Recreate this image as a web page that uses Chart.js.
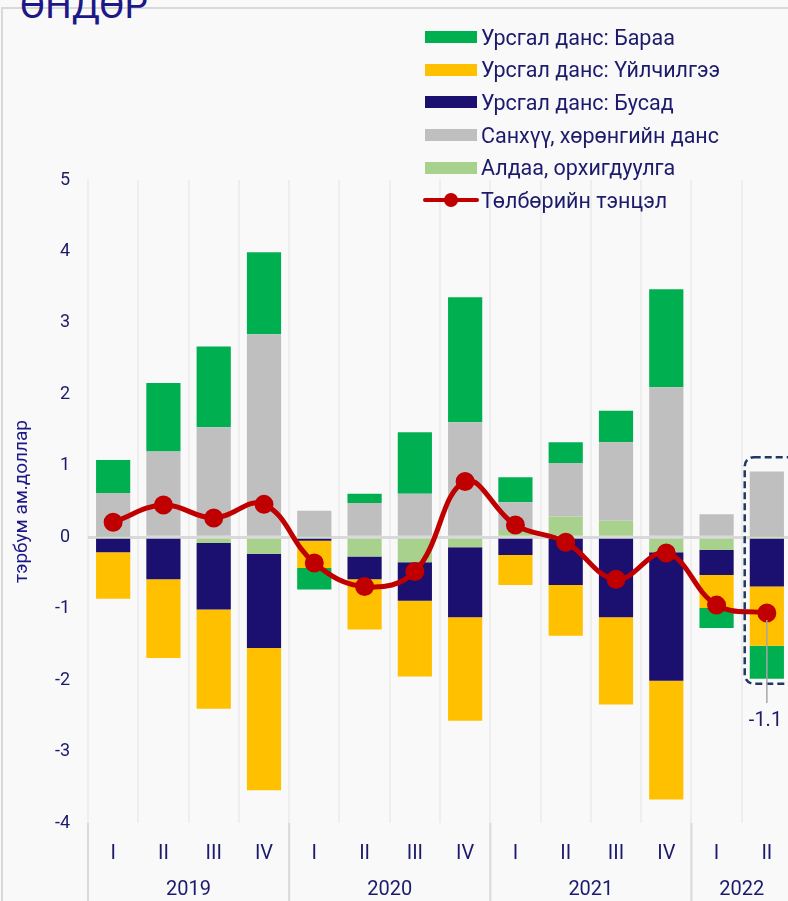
<!DOCTYPE html>
<html lang="mn">
<head>
<meta charset="UTF-8">
<title>Төлбөрийн тэнцэл</title>
<script src="https://cdn.jsdelivr.net/npm/chart.js"></script>
<style>
    html, body {
        margin: 0;
        padding: 0;
        background: #f9f9f9;
        font-family: Roboto, "Noto Sans", sans-serif;
        overflow: hidden;
    }
    #frame {
        position: absolute;
        left: 1px;
        top: 7px;
        width: 820px;
        height: 920px;
        border-left: 2px solid #d9d9d9;
        border-top: 2px solid #d9d9d9;
    }
    #title {
        position: absolute;
        left: 20px;
        top: -13px;
        font-size: 37px;
        line-height: 37px;
        color: #1c1887;
        white-space: nowrap;
    }
    #wrap {
        position: absolute;
        left: 0;
        top: 0;
        width: 792px;
        height: 901px;
    }
    #legend {
        position: absolute;
        left: 423px;
        top: 21px;
        color: #1c1a6b;
        font-size: 21.5px;
    }
    .item {
        display: flex;
        align-items: center;
        height: 32.6px;
        white-space: nowrap;
    }
    .box {
        width: 52px;
        height: 12px;
        margin: 0 4px 0 2px;
    }
    .lineKey {
        position: relative;
        width: 56px;
        height: 14px;
        margin-right: 2px;
    }
    .lineKey span {
        position: absolute;
        left: 0;
        top: 5px;
        width: 56px;
        height: 4px;
        background: #c00000;
        border-radius: 2px;
    }
    .lineKey i {
        position: absolute;
        left: 21px;
        top: 0;
        width: 14px;
        height: 14px;
        border-radius: 50%;
        background: #c00000;
    }
</style>
</head>
<body>
<div id="frame"></div>
<div id="title">ӨНДӨР</div>
<div id="wrap"><canvas id="bopChart"></canvas></div>
<div id="legend"></div>

<script>
    const quarters = ['I', 'II', 'III', 'IV', 'I', 'II', 'III', 'IV', 'I', 'II', 'III', 'IV', 'I', 'II'];
    const years = ['2019', '2020', '2021', '2022'];
    const yearSpan = [4, 4, 4, 2];

    // тэрбум ам.доллар
    const goods     = [0.46, 0.96, 1.13, 1.15, -0.30, 0.13, 0.86, 1.75, 0.35, 0.29, 0.44, 1.37, -0.28, -0.46];
    const services  = [-0.65, -1.10, -1.39, -1.99, -0.38, -0.70, -1.06, -1.45, -0.42, -0.71, -1.22, -1.66, -0.46, -0.83];
    const otherCA   = [-0.21, -0.59, -0.93, -1.32, -0.05, -0.32, -0.54, -0.98, -0.25, -0.67, -1.12, -1.80, -0.35, -0.69];
    const financial = [0.61, 1.18, 1.54, 2.84, 0.36, 0.48, 0.61, 1.61, 0.39, 0.75, 1.10, 2.10, 0.32, 0.91];
    const errors    = [0.01, 0.02, -0.08, -0.23, 0.01, -0.27, -0.35, -0.14, 0.10, 0.29, 0.23, -0.21, -0.18, 0.01];
    const balance   = [0.21, 0.45, 0.27, 0.46, -0.36, -0.69, -0.48, 0.78, 0.17, -0.07, -0.59, -0.22, -0.95, -1.06];

    const yTicks = [5, 4, 3, 2, 1, 0, -1, -2, -3, -4];
    const calloutText = '-1.1';

    const navy = '#1c1a6b';

    // stacking order from zero outwards
    const barSeries = [
        { label: 'Алдаа, орхигдуулга', data: errors, color: '#a9d18e' },
        { label: 'Урсгал данс: Бусад', data: otherCA, color: '#1b0f6f' },
        { label: 'Санхүү, хөрөнгийн данс', data: financial, color: '#bfbfbf' },
        { label: 'Урсгал данс: Үйлчилгээ', data: services, color: '#ffc000' },
        { label: 'Урсгал данс: Бараа', data: goods, color: '#00b050' }
    ];
    const legendOrder = [
        'Урсгал данс: Бараа',
        'Урсгал данс: Үйлчилгээ',
        'Урсгал данс: Бусад',
        'Санхүү, хөрөнгийн данс',
        'Алдаа, орхигдуулга',
        'Төлбөрийн тэнцэл'
    ];

    const datasets = barSeries.map(s => ({
        type: 'bar',
        label: s.label,
        data: s.data,
        backgroundColor: s.color,
        borderWidth: 0,
        order: 1,
        barPercentage: 0.68,
        categoryPercentage: 1
    }));
    datasets.push({
        type: 'line',
        label: 'Төлбөрийн тэнцэл',
        data: balance,
        stack: 'bop',
        borderColor: '#c00000',
        backgroundColor: '#c00000',
        borderWidth: 5,
        pointRadius: 7,
        pointHoverRadius: 7,
        tension: 0.4,
        clip: false,
        order: 0
    });

    // year labels, separators, highlighted box and callout
    const extras = {
        id: 'extras',
        afterDatasetsDraw(chart) {
            const ctx = chart.ctx;
            const x = chart.scales.x;
            const y = chart.scales.y;
            const step = x.width / quarters.length;
            ctx.save();

            // year groups under the axis
            let start = 0;
            ctx.strokeStyle = '#d9d9d9';
            ctx.lineWidth = 2;
            ctx.fillStyle = navy;
            ctx.font = '20px "Liberation Sans Narrow", Roboto, sans-serif';
            ctx.textAlign = 'center';
            ctx.textBaseline = 'middle';
            years.forEach((yr, i) => {
                const left = x.getPixelForValue(start) - step / 2;
                const right = x.getPixelForValue(start + yearSpan[i] - 1) + step / 2;
                ctx.beginPath();
                ctx.moveTo(left, y.bottom);
                ctx.lineTo(left, chart.height);
                ctx.stroke();
                ctx.fillText(yr, (left + right) / 2, 890);
                start += yearSpan[i];
            });

            // dashed box around the last quarter
            const last = quarters.length - 1;
            const bx = x.getPixelForValue(last) - step / 2 + 3;
            const top = y.getPixelForValue(1.12);
            const bottom = y.getPixelForValue(-2.05);
            ctx.setLineDash([7, 4]);
            ctx.strokeStyle = '#1f3864';
            ctx.lineWidth = 2.5;
            ctx.beginPath();
            ctx.roundRect(bx, top, 80, bottom - top, 9);
            ctx.stroke();
            ctx.setLineDash([]);

            // callout for the last balance value
            const px = x.getPixelForValue(last);
            const py = y.getPixelForValue(balance[last]);
            ctx.strokeStyle = '#a6a6a6';
            ctx.lineWidth = 1.5;
            ctx.beginPath();
            ctx.moveTo(px, py + 7);
            ctx.lineTo(px, py + 90);
            ctx.stroke();
            ctx.font = '20px Roboto, sans-serif';
            ctx.fillStyle = navy;
            ctx.textAlign = 'left';
            ctx.fillText(calloutText, px - 18, py + 108);
            ctx.restore();
        }
    };

    new Chart(document.getElementById('bopChart'), {
        data: { labels: quarters, datasets: datasets },
        options: {
            responsive: true,
            maintainAspectRatio: false,
            animation: false,
            layout: { autoPadding: false, padding: { top: 180, right: 0, left: 0, bottom: 0 } },
            plugins: {
                legend: { display: false },
                tooltip: { enabled: false }
            },
            scales: {
                x: {
                    stacked: true,
                    grid: {
                        color: '#eeeeee',
                        lineWidth: 2,
                        drawTicks: false
                    },
                    border: { display: false },
                    ticks: {
                        color: navy,
                        padding: 19,
                        maxRotation: 0,
                        font: { family: '"Liberation Sans Narrow", Roboto, sans-serif', size: 20 }
                    },
                    afterFit(scale) { scale.height = 78; }
                },
                y: {
                    stacked: true,
                    min: -4,
                    max: 5,
                    afterBuildTicks(scale) {
                        scale.ticks = yTicks.map(v => ({ value: v }));
                    },
                    grid: {
                        drawTicks: false,
                        color: c => (c.tick && c.tick.value === 0 ? '#d9d9d9' : 'rgba(0,0,0,0)'),
                        lineWidth: 3
                    },
                    border: { display: false },
                    ticks: {
                        color: navy,
                        padding: 18,
                        font: { family: 'Roboto, sans-serif', size: 18 }
                    },
                    title: {
                        display: true,
                        text: 'тэрбум ам.доллар',
                        color: '#1c1887',
                        font: { family: 'Roboto, sans-serif', size: 19 },
                        padding: { top: 11, bottom: 0 }
                    },
                    afterFit(scale) { scale.width = 88; }
                }
            }
        },
        plugins: [extras]
    });

    // legend (vertical list over the top right of the plot)
    const legend = document.getElementById('legend');
    legendOrder.forEach(name => {
        const ds = datasets.find(d => d.label === name);
        const row = document.createElement('div');
        row.className = 'item';
        if (ds.type === 'line') {
            row.innerHTML = '<div class="lineKey"><span></span><i></i></div>';
        } else {
            row.innerHTML = '<div class="box" style="background:' + ds.backgroundColor + '"></div>';
        }
        const txt = document.createElement('span');
        txt.textContent = name;
        row.appendChild(txt);
        legend.appendChild(row);
    });
</script>
</body>
</html>
